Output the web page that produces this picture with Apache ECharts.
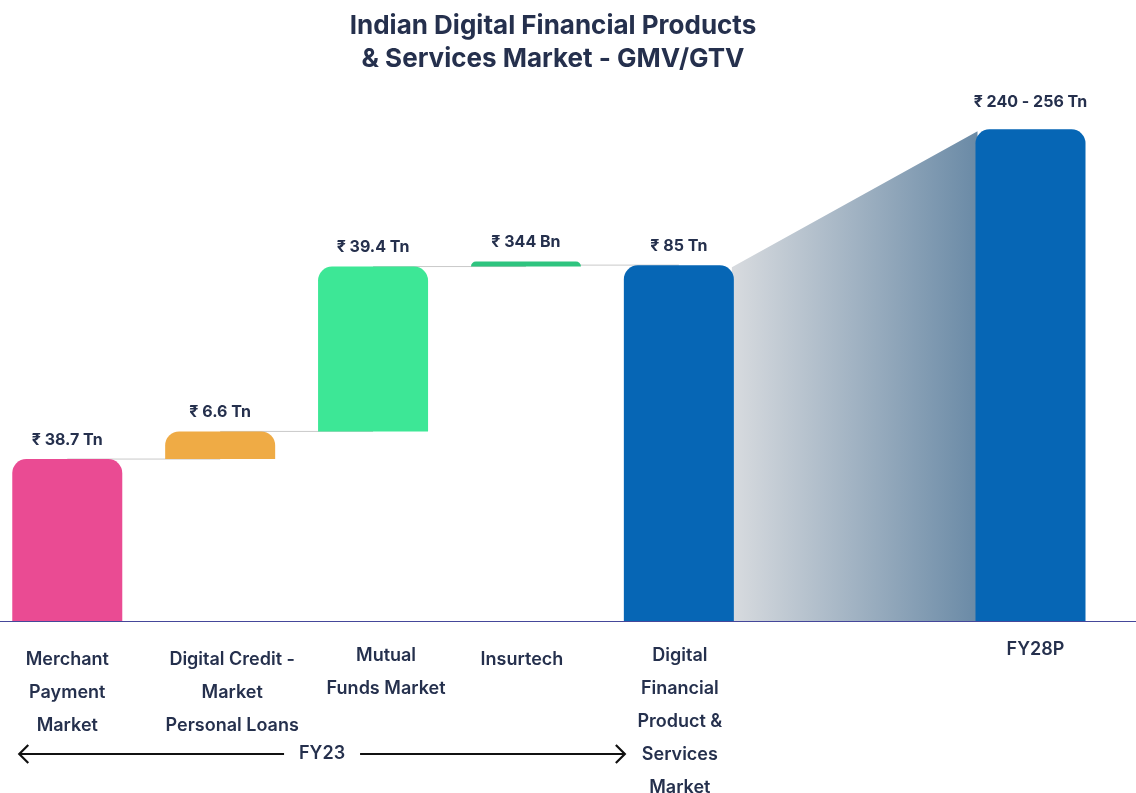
<!DOCTYPE html>
<html>
<head>
<meta charset="utf-8">
<script src="https://cdn.jsdelivr.net/npm/echarts@6/dist/echarts.min.js"></script>
<style>
  html, body { margin: 0; padding: 0; background: #ffffff; }
  #chart { width: 1136px; height: 793px; }
</style>
</head>
<body>
<div id="chart"></div>
<script>
// ---- data ----
const categories = [
  'Merchant\nPayment\nMarket',
  'Digital Credit -\nMarket\nPersonal Loans',
  'Mutual\nFunds Market',
  'Insurtech',
  'Digital\nFinancial\nProduct &\nServices\nMarket',
  'FY28P'
];
// values in ₹ trillion (FY28P drawn at the midpoint of its 240 - 256 range)
const values = [38.7, 6.6, 39.4, 0.344, 85, 248];
const valueLabels = ['₹ 38.7 Tn', '₹ 6.6 Tn', '₹ 39.4 Tn', '₹ 344 Bn', '₹ 85 Tn', '₹ 240 - 256 Tn'];
const isTotal = [false, false, false, false, true, true];
const periodLabel = 'FY23';

// ---- layout / style ----
const slots = [0, 1, 2, 3, 4, 6.3];          // x position of each bar
const labelShiftX = [0, 12, 13, -4, 1, 5];     // small nudges of the category captions
const labelShiftY = [0, 0, -4, 0, -4, -10];
const valueLift = [19, 19, 19, 19, 19, 27];    // gap between bar top and its value label
const barColors = ['#ea4b93', '#efab45', '#3de796', '#2ec47f', '#0666b5', '#0666b5'];
const BAR_W = 110;
const MIN_BAR_PX = 5;
const TEXT = '#25304d';
const FONT = 'Inter, "Noto Sans", sans-serif';

// floating bases for the increments; totals rise from zero
const bases = [];
let running = 0;
values.forEach((v, i) => {
  if (isTotal[i]) { bases.push(0); running = v; }
  else { bases.push(running); running += v; }
});
const tops = values.map((v, i) => bases[i] + v);

const barData = slots.map((s, i) => [s, bases[i], tops[i], i]);
const connectorData = [];
for (let i = 0; i < 4; i++) connectorData.push([slots[i], slots[i + 1], tops[i]]);
const ribbonData = [[slots[4], tops[4], slots[5], tops[5]]];
const captionData = slots.map((s, i) => [s, i]);

const chart = echarts.init(document.getElementById('chart'), null, { renderer: 'canvas' });

chart.setOption({
  animation: false,
  backgroundColor: '#ffffff',
  title: {
    text: 'Indian Digital Financial Products\n& Services Market - GMV/GTV',
    left: 553,
    top: 10,
    padding: 0,
    textAlign: 'center',
    textStyle: {
      color: TEXT, fontFamily: FONT, fontSize: 26, fontWeight: 700, lineHeight: 33
    }
  },
  grid: { left: 0, right: 0, top: 100, bottom: 172, containLabel: false },
  xAxis: {
    type: 'value',
    min: -0.44,
    max: 6.99,
    axisLine: { show: true, lineStyle: { color: '#45479a', width: 1.2 } },
    axisTick: { show: false },
    axisLabel: { show: false },
    splitLine: { show: false }
  },
  yAxis: {
    type: 'value',
    min: 0,
    max: 255,
    show: false,
    splitLine: { show: false },
    // the FY28P bar is shown with a hidden break so both periods fit
    breaks: [{ start: 100, end: 230.5, gap: 0 }],
    breakArea: { show: false }
  },
  series: [
    {
      // growth ribbon from the FY23 total to FY28P
      type: 'custom',
      z: 1,
      silent: true,
      encode: { x: [0, 2], y: [1, 3] },
      data: ribbonData,
      renderItem: function (params, api) {
        const a = api.coord([api.value(0), api.value(1)]);
        const a0 = api.coord([api.value(0), 0]);
        const b = api.coord([api.value(2), api.value(3)]);
        const b0 = api.coord([api.value(2), 0]);
        const h = BAR_W / 2;
        return {
          type: 'polygon',
          shape: { points: [[a[0] + h - 2, a[1] + 2], [b[0] - h + 2, b[1] + 2], [b0[0] - h + 2, b0[1]], [a0[0] + h - 2, a0[1]]] },
          style: {
            fill: new echarts.graphic.LinearGradient(0, 0, 1, 0, [
              { offset: 0, color: '#d8dbdf' },
              { offset: 1, color: '#6a8aa6' }
            ])
          }
        };
      }
    },
    {
      // thin connectors between consecutive bar tops
      type: 'custom',
      z: 1,
      silent: true,
      encode: { x: [0, 1], y: 2 },
      data: connectorData,
      renderItem: function (params, api) {
        const p1 = api.coord([api.value(0), api.value(2)]);
        const p2 = api.coord([api.value(1), api.value(2)]);
        return {
          type: 'line',
          shape: { x1: p1[0], y1: p1[1], x2: p2[0], y2: p2[1] },
          style: { stroke: '#c9c9c9', lineWidth: 1 }
        };
      }
    },
    {
      // floating waterfall bars with their value labels
      type: 'custom',
      z: 3,
      silent: true,
      clip: false,
      encode: { x: 0, y: [1, 2] },
      data: barData,
      renderItem: function (params, api) {
        const i = api.value(3);
        const pb = api.coord([api.value(0), api.value(1)]);
        const pt = api.coord([api.value(0), api.value(2)]);
        const h = Math.max(pb[1] - pt[1], MIN_BAR_PX);
        const y = pb[1] - h;
        const r = Math.min(14, h);
        return {
          type: 'group',
          children: [
            {
              type: 'rect',
              shape: { x: pb[0] - BAR_W / 2, y: y, width: BAR_W, height: h, r: [r, r, 0, 0] },
              style: { fill: barColors[i] }
            },
            {
              type: 'text',
              x: pb[0],
              y: y - valueLift[i],
              style: {
                text: valueLabels[i],
                fill: TEXT,
                fontFamily: FONT,
                fontSize: 16,
                fontWeight: 700,
                align: 'center',
                verticalAlign: 'middle'
              }
            }
          ]
        };
      }
    },
    {
      // category captions under the baseline
      type: 'custom',
      z: 4,
      silent: true,
      clip: false,
      encode: { x: 0 },
      data: captionData,
      renderItem: function (params, api) {
        const i = api.value(1);
        const p = api.coord([api.value(0), 0]);
        return {
          type: 'text',
          x: p[0] + labelShiftX[i],
          y: p[1] + 22 + labelShiftY[i],
          style: {
            text: categories[i],
            fill: TEXT,
            fontFamily: FONT,
            fontSize: 18,
            fontWeight: 600,
            lineHeight: 33,
            align: 'center',
            verticalAlign: 'top'
          }
        };
      }
    }
  ]
});

// FY23 span arrow under the first five bars
(function drawPeriodArrow() {
  const first = chart.convertToPixel({ gridIndex: 0 }, [slots[0], 0]);
  const total = chart.convertToPixel({ gridIndex: 0 }, [slots[4], 0]);
  const xL = first[0] - BAR_W / 2 + 7;
  const xR = total[0] - BAR_W / 2 + 1;
  const y = first[1] + 133;
  const mid = (xL + xR) / 2;
  const gap = 38;
  const stroke = { stroke: '#111111', lineWidth: 2.2, fill: null };
  chart.setOption({
    graphic: [
      { type: 'line', shape: { x1: xL, y1: y, x2: mid - gap, y2: y }, style: stroke, silent: true },
      { type: 'line', shape: { x1: mid + gap, y1: y, x2: xR, y2: y }, style: stroke, silent: true },
      { type: 'polyline', shape: { points: [[xL + 9, y - 9], [xL, y], [xL + 9, y + 9]] }, style: stroke, silent: true },
      { type: 'polyline', shape: { points: [[xR - 9, y - 9], [xR, y], [xR - 9, y + 9]] }, style: stroke, silent: true },
      {
        type: 'text', x: mid, y: y, silent: true,
        style: {
          text: periodLabel, fill: TEXT, fontFamily: FONT, fontSize: 18, fontWeight: 600,
          align: 'center', verticalAlign: 'middle'
        }
      }
    ]
  });
})();
</script>
</body>
</html>
